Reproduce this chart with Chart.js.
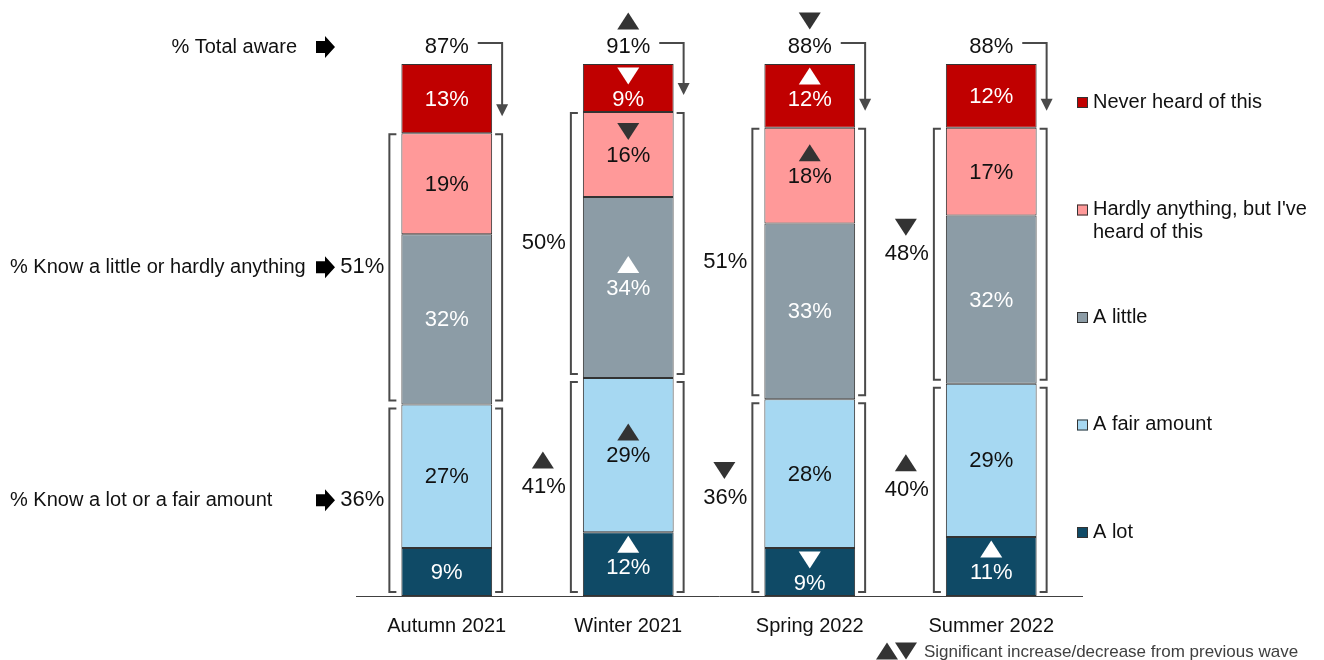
<!DOCTYPE html>
<html>
<head>
<meta charset="utf-8">
<script src="https://cdn.jsdelivr.net/npm/chart.js@4.4.1/dist/chart.umd.min.js"></script>
<style>
  body { margin: 0; background: #fff; }
  canvas { display: block; }
</style>
</head>
<body>
<canvas id="chart" width="1324" height="660"></canvas>
<script>
const waves = ['Autumn 2021', 'Winter 2021', 'Spring 2022', 'Summer 2022'];

// stacked bottom to top
const aLot = [9, 12, 9, 11.1];
const fairAmount = [27, 29, 28, 28.8];
const aLittle = [32, 34, 33, 31.6];
const hardlyAnything = [19, 16, 18, 16.5];
const neverHeard = [13, 9, 12, 12];

// grouped totals shown beside the bars
const totalAware = [87, 91, 88, 88];
const knowLittle = [51, 50, 51, 48];
const knowLot = [36, 41, 36, 40];

// significant change vs previous wave: 1 up, -1 down, 0 none
const sigALot = [0, 1, -1, 1];
const sigFairAmount = [0, 1, 0, 0];
const sigALittle = [0, 1, 0, 0];
const sigHardly = [0, -1, 1, 0];
const sigNever = [0, -1, 1, 0];
const sigTotalAware = [0, 1, -1, 0];
const sigKnowLittle = [0, 0, 0, -1];
const sigKnowLot = [0, 1, -1, 1];

const FONT = '"Liberation Sans", Arial, sans-serif';
const DARK = '#333333';
const LINE = '#4a4a4a';

function triangle(ctx, x, y, dir, color) {
  const w = 22, h = 17;
  ctx.fillStyle = color;
  ctx.beginPath();
  if (dir > 0) {
    ctx.moveTo(x - w / 2, y + h / 2);
    ctx.lineTo(x + w / 2, y + h / 2);
    ctx.lineTo(x, y - h / 2);
  } else {
    ctx.moveTo(x - w / 2, y - h / 2);
    ctx.lineTo(x + w / 2, y - h / 2);
    ctx.lineTo(x, y + h / 2);
  }
  ctx.closePath();
  ctx.fill();
}

function blockArrow(ctx, x, y) {
  ctx.fillStyle = '#000';
  ctx.beginPath();
  ctx.moveTo(x, y - 6);
  ctx.lineTo(x + 9, y - 6);
  ctx.lineTo(x + 9, y - 11);
  ctx.lineTo(x + 19, y);
  ctx.lineTo(x + 9, y + 11);
  ctx.lineTo(x + 9, y + 6);
  ctx.lineTo(x, y + 6);
  ctx.closePath();
  ctx.fill();
}

function bracket(ctx, x, top, bottom, tick) {
  ctx.beginPath();
  ctx.moveTo(x + tick, top);
  ctx.lineTo(x, top);
  ctx.lineTo(x, bottom);
  ctx.lineTo(x + tick, bottom);
  ctx.stroke();
}

const legendItems = [
  { color: '#C00000', lines: ['Never heard of this'] },
  { color: '#FF9999', lines: ['Hardly anything, but I\'ve', 'heard of this'] },
  { color: '#8C9CA6', lines: ['A little'] },
  { color: '#A6D8F2', lines: ['A fair amount'] },
  { color: '#0F4A66', lines: ['A lot'] },
];

const labelColors = ['#fff', '#111', '#fff', '#111', '#fff'];
const sigs = [sigALot, sigFairAmount, sigALittle, sigHardly, sigNever];

const annotations = {
  id: 'annotations',
  afterDatasetsDraw(chart) {
    const ctx = chart.ctx;
    ctx.save();
    ctx.textBaseline = 'middle';
    ctx.textAlign = 'center';

    // segment labels and markers
    chart.data.datasets.forEach((ds, di) => {
      const meta = chart.getDatasetMeta(di);
      meta.data.forEach((el, i) => {
        const mid = (el.y + el.base) / 2;
        const sig = sigs[di][i];
        let ly = mid;
        if (sig) {
          ly = Math.max(mid, el.y + 35);
          triangle(ctx, el.x, ly - 23, sig, labelColors[di] === '#fff' ? '#fff' : DARK);
        }
        ctx.fillStyle = labelColors[di];
        ctx.font = '22px ' + FONT;
        ctx.fillText(Math.round(ds.data[i]) + '%', el.x, ly + 1);
      });
    });

    const lotMeta = chart.getDatasetMeta(0);
    const fairMeta = chart.getDatasetMeta(1);
    const littleMeta = chart.getDatasetMeta(2);
    const hardlyMeta = chart.getDatasetMeta(3);
    const neverMeta = chart.getDatasetMeta(4);

    ctx.strokeStyle = LINE;
    ctx.lineWidth = 2;
    const rowY = { total: 0, little: 0, lot: 0 };

    waves.forEach((w, i) => {
      const top = neverMeta.data[i];
      const left = top.x - top.width / 2;
      const right = top.x + top.width / 2;
      const lx = left - 12, rx = right + 10;

      // know a little / hardly anything bracket
      const t1 = hardlyMeta.data[i].y + 1;
      const b1 = littleMeta.data[i].base - 4;
      bracket(ctx, lx, t1, b1, 7);
      bracket(ctx, rx, t1, b1, -7);
      // know a lot / fair amount bracket
      const t2 = fairMeta.data[i].y + 4;
      const b2 = lotMeta.data[i].base - 4;
      bracket(ctx, lx, t2, b2, 7);
      bracket(ctx, rx, t2, b2, -7);

      ctx.font = '22px ' + FONT;
      ctx.fillStyle = '#111';
      ctx.textAlign = 'right';
      const gx = left - 17;
      const y1 = (t1 + b1) / 2;
      const y2 = (t2 + b2) / 2;
      ctx.fillText(knowLittle[i] + '%', gx, y1);
      ctx.fillText(knowLot[i] + '%', gx, y2);
      if (sigKnowLittle[i]) triangle(ctx, gx - 23, y1 - 27, sigKnowLittle[i], DARK);
      if (sigKnowLot[i]) triangle(ctx, gx - 23, y2 - 27, sigKnowLot[i], DARK);
      ctx.textAlign = 'center';

      // total aware
      const ty = top.y - 17;
      ctx.fillStyle = '#111';
      ctx.fillText(totalAware[i] + '%', top.x, ty);
      if (sigTotalAware[i]) triangle(ctx, top.x, top.y - 43, sigTotalAware[i], DARK);
      const ay = top.y - 21;
      const aEnd = top.base - 18;
      ctx.beginPath();
      ctx.moveTo(top.x + 31, ay);
      ctx.lineTo(rx, ay);
      ctx.lineTo(rx, aEnd - 10);
      ctx.stroke();
      ctx.fillStyle = LINE;
      ctx.beginPath();
      ctx.moveTo(rx - 6, aEnd - 11);
      ctx.lineTo(rx + 6, aEnd - 11);
      ctx.lineTo(rx, aEnd + 1);
      ctx.closePath();
      ctx.fill();

      if (i === 0) { rowY.total = ty; rowY.little = y1; rowY.lot = y2; }
    });

    // row labels on the left
    ctx.font = '20px ' + FONT;
    ctx.fillStyle = '#111';
    ctx.textAlign = 'right';
    ctx.fillText('% Total aware', 297, rowY.total);
    ctx.textAlign = 'left';
    ctx.fillText('% Know a little or hardly anything', 10, rowY.little);
    ctx.fillText('% Know a lot or a fair amount', 10, rowY.lot);
    blockArrow(ctx, 316, rowY.total);
    blockArrow(ctx, 316, rowY.little);
    blockArrow(ctx, 316, rowY.lot);

    // legend
    legendItems.forEach((item, k) => {
      const y = 102 + k * 107.5;
      ctx.fillStyle = item.color;
      ctx.fillRect(1077, y - 5, 11, 11);
      ctx.strokeStyle = '#333';
      ctx.lineWidth = 1;
      ctx.strokeRect(1077.5, y - 4.5, 10, 10);
      ctx.fillStyle = '#111';
      ctx.font = '20px ' + FONT;
      item.lines.forEach((ln, j) => ctx.fillText(ln, 1093, y + j * 23));
    });

    // footnote
    triangle(ctx, 887, 651, 1, DARK);
    triangle(ctx, 906, 651, -1, DARK);
    ctx.fillStyle = '#404040';
    ctx.font = '17px ' + FONT;
    ctx.fillText('Significant increase/decrease from previous wave', 924, 652);

    ctx.restore();
  }
};

function makeSet(label, data, color) {
  return {
    label: label,
    data: data,
    backgroundColor: color,
    borderColor: '#333333',
    borderWidth: 1,
    borderSkipped: false,
    barPercentage: 1,
    categoryPercentage: 0.5,
  };
}

new Chart(document.getElementById('chart'), {
  type: 'bar',
  data: {
    labels: waves,
    datasets: [
      makeSet('A lot', aLot, '#0F4A66'),
      makeSet('A fair amount', fairAmount, '#A6D8F2'),
      makeSet('A little', aLittle, '#8C9CA6'),
      makeSet("Hardly anything, but I've heard of this", hardlyAnything, '#FF9999'),
      makeSet('Never heard of this', neverHeard, '#C00000'),
    ],
  },
  options: {
    responsive: false,
    animation: false,
    layout: { padding: { left: 356, right: 242, top: 64, bottom: 0 } },
    scales: {
      x: {
        stacked: true,
        grid: { display: false },
        border: { display: true, color: '#404040', width: 1 },
        ticks: { color: '#111', font: { size: 20, family: FONT }, padding: 10 },
        afterFit: (axis) => { axis.height = 64; },
      },
      y: {
        stacked: true,
        display: false,
        min: 0,
        max: 100,
      },
    },
    plugins: {
      legend: { display: false },
      tooltip: { enabled: false },
    },
  },
  plugins: [annotations],
});
</script>
</body>
</html>
